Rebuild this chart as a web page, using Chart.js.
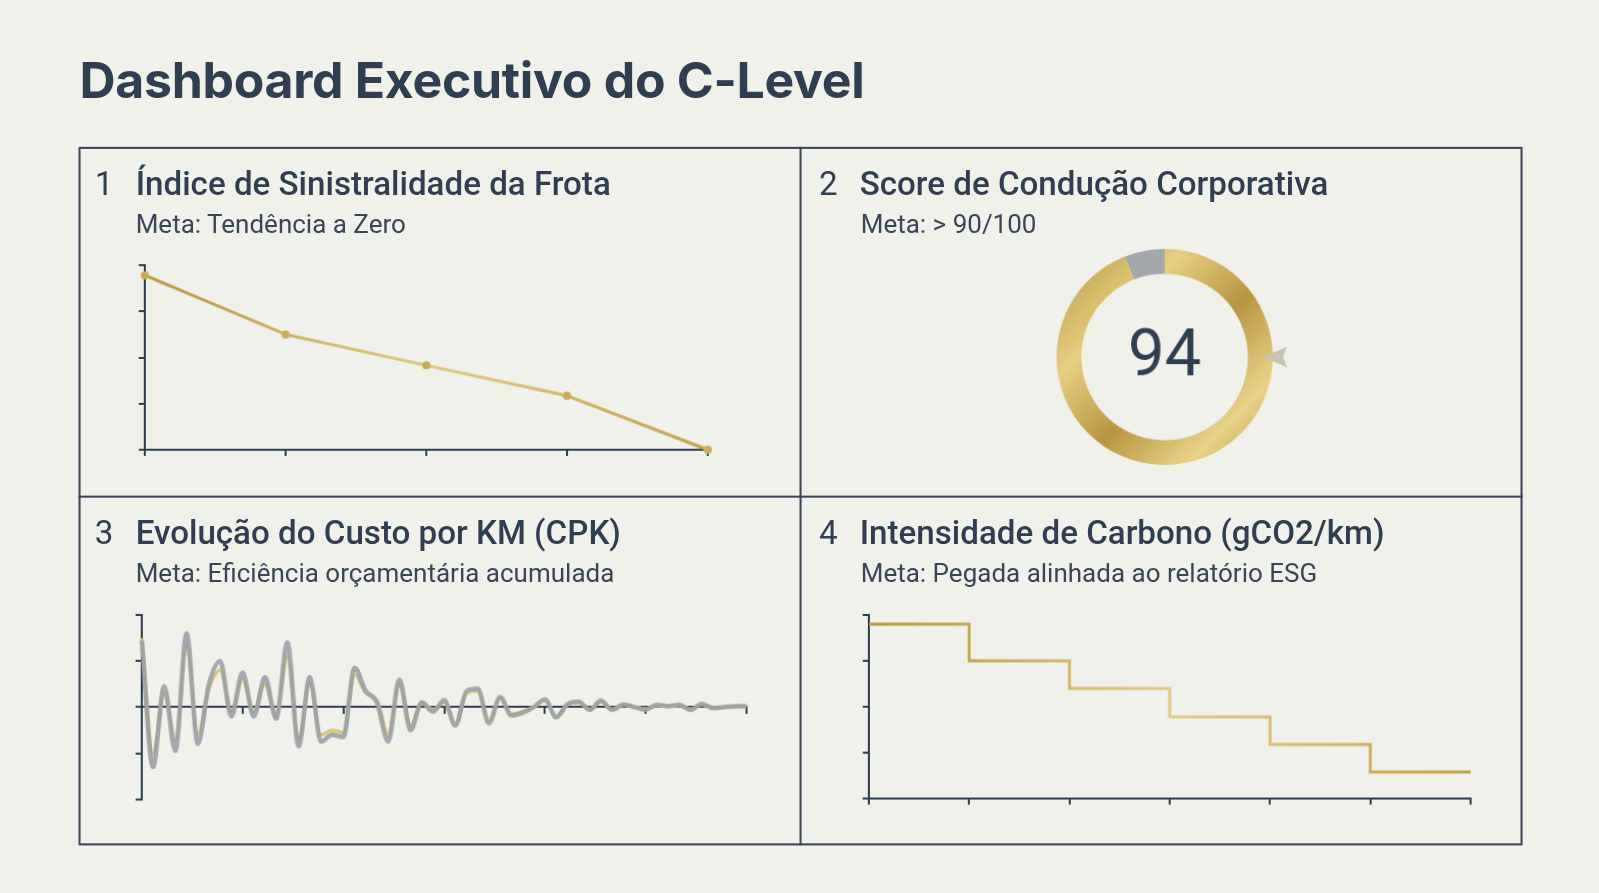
<!DOCTYPE html>
<html><head><meta charset="utf-8">
<script src="https://cdn.jsdelivr.net/npm/chart.js@4.4.1/dist/chart.umd.min.js"></script>
<style>
html,body{margin:0;padding:0;background:#f1f1ec;width:1599px;height:893px;overflow:hidden;font-family:Roboto,sans-serif;color:#2f3e50}
#wrap{position:absolute;left:0;top:0;width:1568px;height:876px;transform:scale(1.0198);transform-origin:0 0}
h1{position:absolute;left:78px;top:49px;margin:0;font:700 49px Inter,sans-serif;color:#2f3e50;letter-spacing:-0.3px;line-height:59px}
.grid{position:absolute;left:77px;top:144px;width:1416px;height:685px;border:2px solid #3a4656;box-sizing:border-box}
.vl{position:absolute;left:784px;top:144px;width:2px;height:685px;background:#3a4656}
.hl{position:absolute;left:77px;top:486px;width:1416px;height:2px;background:#3a4656}
.t{position:absolute;font:500 32.5px Roboto,sans-serif;line-height:38px;color:#2f3e50;white-space:nowrap}
.t span{display:inline-block;width:40px;font-weight:400}
.s{position:absolute;font:400 25.5px Roboto,sans-serif;line-height:30px;color:#3a4656;white-space:nowrap}
canvas{position:absolute}
</style></head><body><div id="wrap">
<h1>Dashboard Executivo do C-Level</h1>
<div class="grid"></div><div class="vl"></div><div class="hl"></div>
<div class="t" style="left:93px;top:161px"><span>1</span>Índice de Sinistralidade da Frota</div>
<div class="s" style="left:133px;top:204px">Meta: Tendência a Zero</div>
<div class="t" style="left:803px;top:161px"><span>2</span>Score de Condução Corporativa</div>
<div class="s" style="left:844px;top:204px">Meta: &gt; 90/100</div>
<div class="t" style="left:93px;top:503px"><span>3</span>Evolução do Custo por KM (CPK)</div>
<div class="s" style="left:133px;top:547px">Meta: Eficiência orçamentária acumulada</div>
<div class="t" style="left:803px;top:503px"><span>4</span>Intensidade de Carbono (gCO2/km)</div>
<div class="s" style="left:844px;top:547px">Meta: Pegada alinhada ao relatório ESG</div>
<div style="position:absolute;left:1022px;top:230px;width:240px;height:240px"><canvas id="c2"></canvas></div>
<div style="position:absolute;left:136px;top:256px;width:568px;height:191px"><canvas id="c1"></canvas></div>
<div style="position:absolute;left:133px;top:599px;width:609px;height:187px"><canvas id="c3"></canvas></div>
<div style="position:absolute;left:846px;top:599px;width:606px;height:190px"><canvas id="c4"></canvas></div>
</div>
<script>
const sinLabels=['P1','P2','P3','P4','P5'];
const sinValues=[3.78,2.5,1.83,1.17,0];
const scoreValues=[94,6];
const cpkGold=[1.5,-1.0,0.3,-0.7,1.3,-0.6,0.4,0.8,-0.1,0.6,-0.1,0.5,-0.2,1.1,-0.7,0.5,-0.6,-0.5,-0.55,0.7,0.3,0.15,-0.6,0.5,-0.4,0.1,-0.05,0.1,-0.35,0.3,0.35,-0.3,0.2,-0.15,-0.1,0.0,0.15,-0.2,0.05,0.1,-0.05,0.12,-0.05,0.05,0.0,-0.04,0.04,0.02,0.04,-0.05,0.06,-0.02,0.0,0.02,0.02];
const cpkGrey=[1.45,-1.3,0.45,-0.95,1.6,-0.8,0.5,1.0,-0.2,0.75,-0.2,0.65,-0.25,1.4,-0.85,0.65,-0.75,-0.6,-0.65,0.85,0.35,0.1,-0.75,0.6,-0.5,0.1,-0.1,0.15,-0.4,0.35,0.4,-0.35,0.22,-0.18,-0.12,0.0,0.17,-0.22,0.06,0.12,-0.06,0.14,-0.06,0.06,0.0,-0.05,0.05,0.02,0.05,-0.06,0.07,-0.02,0.0,0.02,0.02];
const cpkLabels=cpkGold.map((_,i)=>i);
const co2Labels=['0','1','2','3','4','5','6'];
const co2Values=[3.8,3.0,2.4,1.78,1.18,0.58,0.58];

const ax='#2f3e50';
function gold(ctx,area){const g=ctx.createLinearGradient(area.left,0,area.right,0);g.addColorStop(0,'#b8963e');g.addColorStop(0.5,'#e2cb80');g.addColorStop(1,'#c2a24c');return g;}
function scl(min,max,extra){return Object.assign({min,max,display:true,ticks:{display:false,stepSize:1},border:{display:true,color:ax,width:2},grid:{drawOnChartArea:false,drawTicks:true,tickLength:6,color:ax,lineWidth:2}},extra||{});}
const base={responsive:true,maintainAspectRatio:false,animation:false,plugins:{legend:{display:false},tooltip:{enabled:false}},layout:{padding:{top:4,right:10}}};

new Chart(document.getElementById('c1'),{type:'line',data:{labels:sinLabels,datasets:[{data:sinValues,borderWidth:3,pointRadius:4,pointBackgroundColor:'#c9ab58',pointBorderWidth:0,clip:false,borderColor:c=>c.chart.chartArea?gold(c.chart.ctx,c.chart.chartArea):'#c9ab58'}]},
options:Object.assign({},base,{scales:{x:scl(undefined,undefined,{offset:false}),y:scl(0,4)}}),
plugins:[{afterDatasetsDraw(ch){const m=ch.getDatasetMeta(0).data;const p=m[m.length-1];const c=ch.ctx;c.save();c.font='24px Roboto';c.fillStyle=ax;c.textBaseline='middle';c.fillText('0',p.x+16,p.y);c.restore();}}]});

new Chart(document.getElementById('c2'),{type:'doughnut',data:{labels:['Score','Restante'],datasets:[{data:scoreValues,borderWidth:0,cutout:'77%',backgroundColor:c=>{const a=c.chart.chartArea;if(!a)return '#c9ab58';if(c.dataIndex===1)return '#a3a8ad';const g=c.chart.ctx.createLinearGradient(a.left,a.top,a.right,a.bottom);g.addColorStop(0,'#b8963e');g.addColorStop(0.3,'#e6cf82');g.addColorStop(0.55,'#b89640');g.addColorStop(0.8,'#e8d38a');g.addColorStop(1,'#b8963e');return g;}}]},
options:Object.assign({},base,{layout:{padding:14}}),
plugins:[{afterDraw(ch){const a=ch.chartArea,c=ch.ctx,cx=(a.left+a.right)/2,cy=(a.top+a.bottom)/2;c.save();c.font='400 64px Roboto';c.fillStyle=ax;c.textAlign='center';c.textBaseline='middle';c.fillText(String(scoreValues[0]),cx,cy+2);
const r=ch.getDatasetMeta(0).data[0].outerRadius;c.fillStyle='#c8c3b5';c.beginPath();c.moveTo(cx+r-10,cy);c.lineTo(cx+r+14,cy-10);c.lineTo(cx+r+10,cy);c.lineTo(cx+r+14,cy+10);c.closePath();c.fill();c.restore();}}]});

new Chart(document.getElementById('c3'),{type:'line',data:{labels:cpkLabels,datasets:[
{data:cpkGrey,borderColor:'rgba(150,156,165,0.85)',borderWidth:4.5,pointRadius:0,cubicInterpolationMode:'monotone'},
{data:cpkGold,borderColor:'rgba(222,198,122,1)',borderWidth:3.5,pointRadius:0,cubicInterpolationMode:'monotone'}]},
options:Object.assign({},base,{scales:{x:Object.assign(scl(),{position:{y:0},ticks:{display:false,autoSkip:false,callback:(v,i)=>i%9===0?'':null}}),y:scl(-2,2)}})});

new Chart(document.getElementById('c4'),{type:'line',data:{labels:co2Labels,datasets:[{data:co2Values,stepped:'before',borderWidth:3,pointRadius:0,borderColor:c=>c.chart.chartArea?gold(c.chart.ctx,c.chart.chartArea):'#c9ab58'}]},
options:Object.assign({},base,{scales:{x:scl(),y:scl(0,4)}})});
</script>
</body></html>
